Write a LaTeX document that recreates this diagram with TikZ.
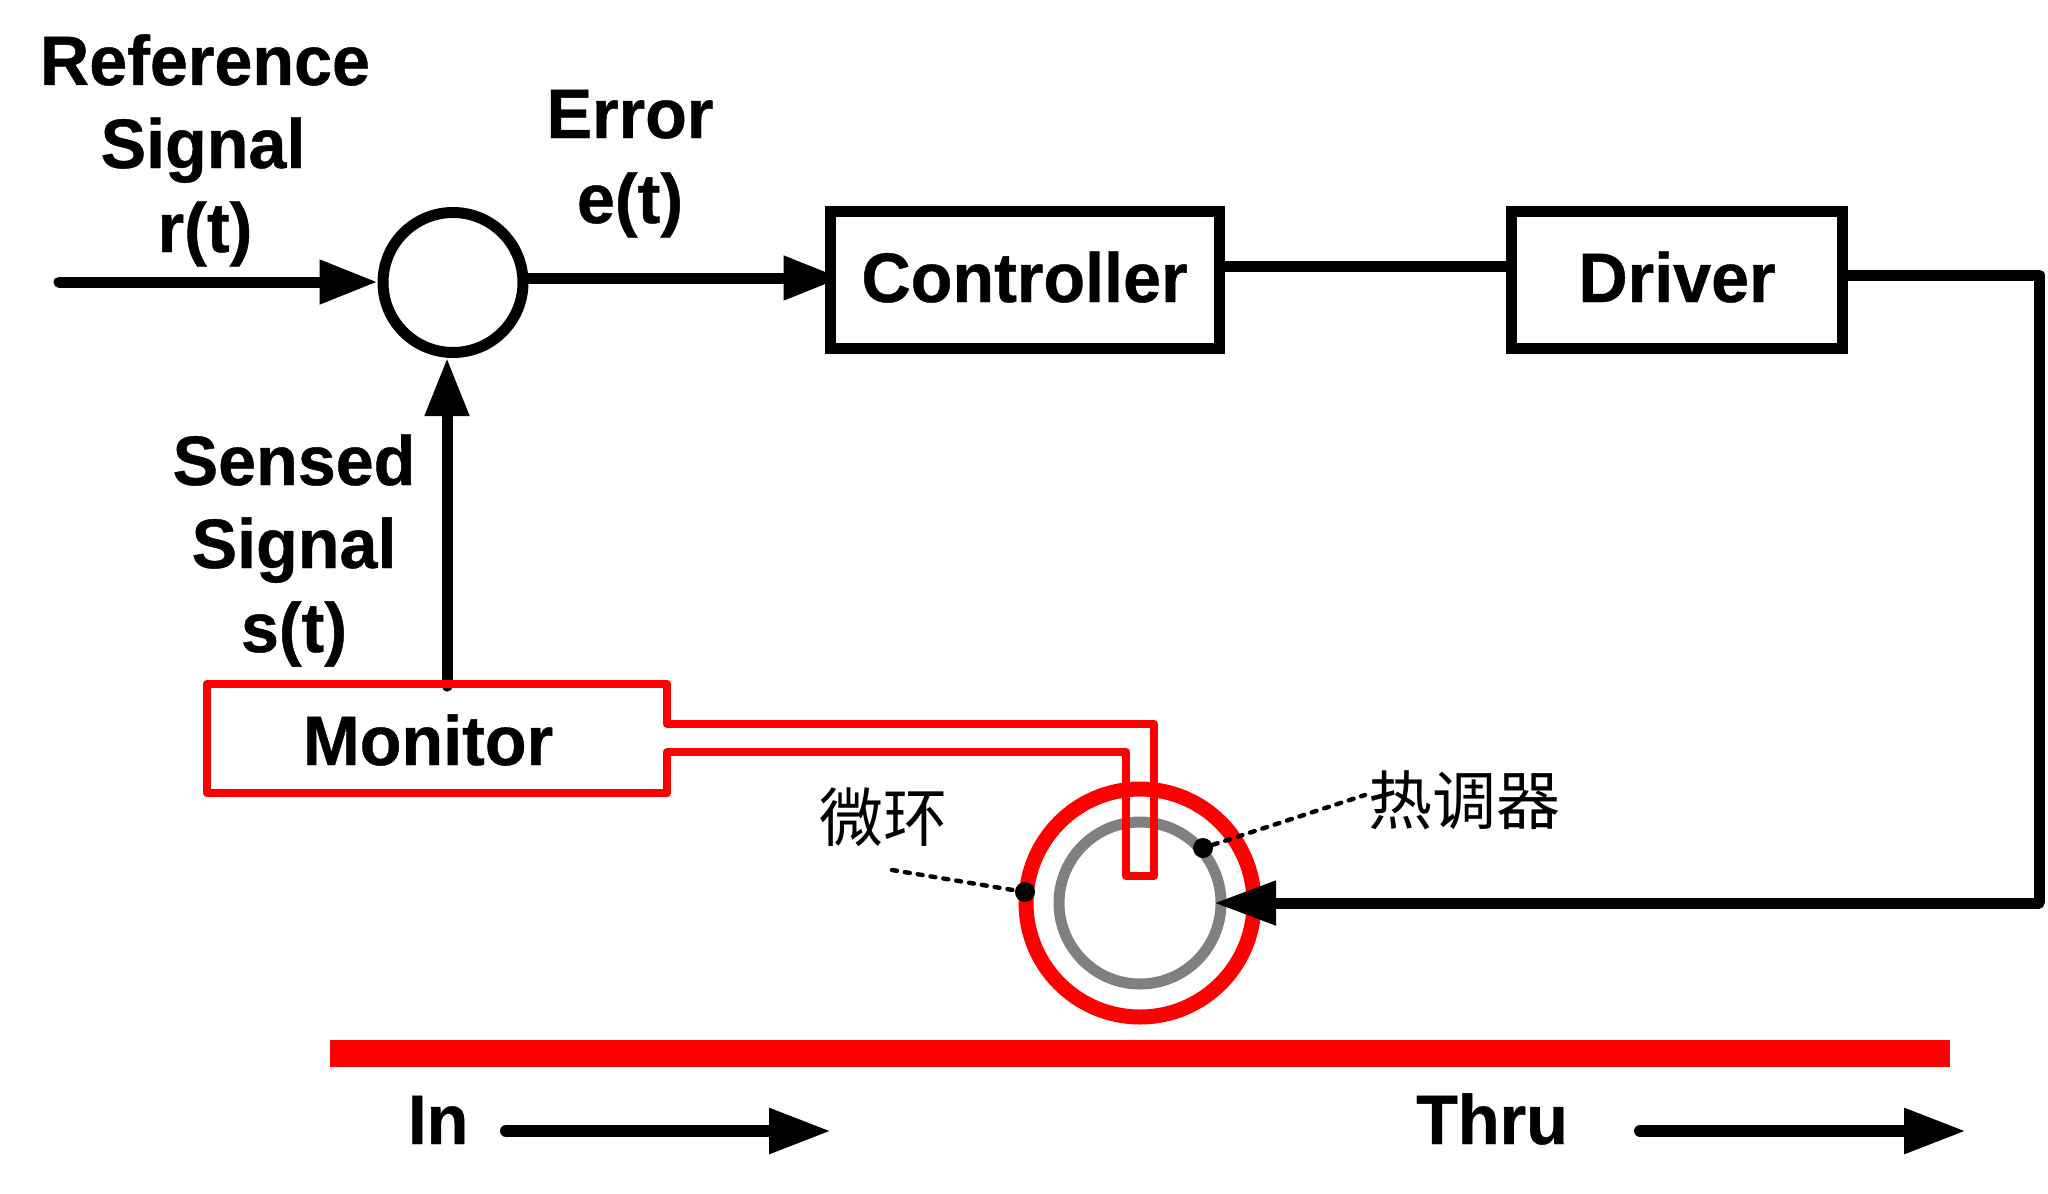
\documentclass[tikz,border=0pt]{standalone}
\usepackage{fontspec}
\usepackage{xcolor}
\usetikzlibrary{arrows.meta,backgrounds}
\setmainfont[FakeStretch=0.975,BoldFeatures={FakeBold=0.6}]{Liberation Sans}
\newfontfamily\cjk{Noto Sans CJK SC}

\tikzset{
    lbl/.style={font=\fontsize{35}{35}\selectfont\bfseries, inner sep=0pt, anchor=base},
    cjklbl/.style={font=\fontsize{32}{32}\selectfont\cjk, inner sep=0pt},
    blk/.style={draw, fill=white, line width=5.5pt, minimum width=#1, minimum height=68.5pt, inner sep=0pt,
        font=\fontsize{35}{35}\selectfont\bfseries, text height=25pt, text depth=3pt},
    sig/.style={line width=5.5pt, line cap=round, -{Triangle[length=29pt,width=21pt]}},
    wire/.style={line width=5.5pt, line join=round},
    flow/.style={line width=6pt, line cap=round, -{Triangle[length=31pt,width=21.5pt]}},
    lead/.style={line width=2.2pt, line cap=round, dash pattern=on 2.5pt off 4pt},
    spot/.style={circle, fill=black, minimum size=10pt, inner sep=0pt},
}

\begin{document}
\begin{tikzpicture}[x=.5pt, y=-.5pt]
    \useasboundingbox (0,0) rectangle (2048,1193);

    % bus waveguide
    \fill[red]     (330,1040) rectangle (1950,1067);
    \node[lbl] (inlbl) at (438,1144) {In};
    \node[lbl] (thrulbl) at (1492,1144) {Thru};
    \coordinate (ina) at (506,1131);
    \coordinate (inb) at (831,1131);
    \coordinate (thrua) at (1640,1131);
    \coordinate (thrub) at (1966,1131);
    \draw[flow] (ina) -- (inb);
    \draw[flow] (thrua) -- (thrub);

    % loop
    \node[circle, draw, line width=5.5pt, minimum size=70pt, inner sep=0pt] (sum) at (453,282.5) {};
    \node[blk=194.5pt] (ctrl) at (1024.5,280) {Controller};
    \node[blk=165.5pt] (drv) at (1677,280) {Driver};
    \coordinate (refin) at (59,282);
    \coordinate (bend) at (2039,903);
    \coordinate (heat) at (1214,903);
    \coordinate (monout) at (447,686);

    \draw[sig] (refin) -- (sum.west |- refin);
    \begin{pgfonlayer}{background}
        \draw[sig] ([yshift=1pt]sum.east |- ctrl.west) -- ([xshift=8.5pt,yshift=1pt]ctrl.west);
    \end{pgfonlayer}
    \draw[wire] ([yshift=6.75pt]ctrl.east) -- ([yshift=6.75pt]drv.west);
    \draw[wire] ([yshift=2.5pt]drv.east) -- ([yshift=2.5pt]bend |- drv.east) -- (bend);
    \draw[sig] (monout) -- (monout |- sum.south);

    % rings
    \draw[red, line width=7.5pt]    (1140,903) circle (114);
    \draw[gray, line width=5.5pt]    (1140,903) circle (81);
    \draw[sig, -{Triangle[length=31pt,width=21pt]}] (bend) -- (heat);

    % monitor with its arm
    \node[lbl] (monlbl) at (428,765) {Monitor};
    \draw[red, line width=4pt, line join=round]
        (207,683.5) -- (667,683.5) -- (667,724) -- (1154,724) -- (1154,876)
        -- (1126,876) -- (1126,752) -- (667,752) -- (667,793) -- (207,793) -- cycle;

    % labels
    \node[lbl] (reflbl) at (205,85) {Reference};
    \node[lbl] (reflblb) at (203,168) {Signal};
    \node[lbl] (reflblc) at (205,252) {r(t)};
    \node[lbl] (errlbl) at (630,138) {Error};
    \node[lbl] (errlblb) at (630,223) {e(t)};
    \node[lbl] (senlbl) at (294,485) {Sensed};
    \node[lbl] (senlblb) at (294,568) {Signal};
    \node[lbl] (senlblc) at (294,652) {s(t)};

    % callouts
    \node[cjklbl] (ringlbl) at (883,817) {微环};
    \node[cjklbl] (heatlbl) at (1464,800) {热调器};
    \node[spot] (ringdot) at (1025,892) {};
    \node[spot] (heatdot) at (1203,848) {};
    \coordinate (ringend) at (892,870);
    \coordinate (heatend) at (1365,795);
    \draw[lead] (ringend) -- (ringdot);
    \draw[lead] (heatdot) -- (heatend);
\end{tikzpicture}
\end{document}
